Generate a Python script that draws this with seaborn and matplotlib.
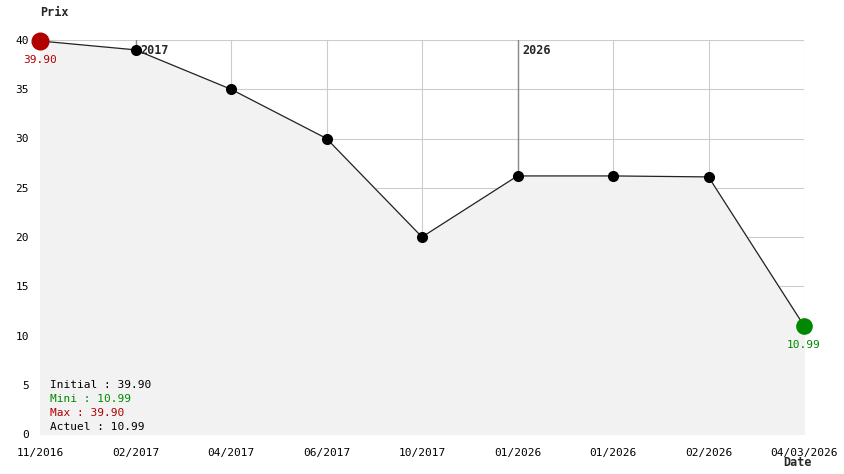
import numpy as np
import pandas as pd
import matplotlib
matplotlib.use("Agg")
import matplotlib.pyplot as plt
import seaborn as sns

# donnees
dates = ["11/2016", "02/2017", "04/2017", "06/2017", "10/2017",
         "01/2026", "01/2026", "02/2026", "04/03/2026"]
prix = [39.90, 39.0, 35.0, 30.0, 20.0, 26.2, 26.2, 26.1, 10.99]
annees = {1: "2017", 5: "2026"}  # marqueurs de changement d'annee

prix_init = 39.90
prix_mini = 10.99
prix_max = 39.90
prix_actuel = 10.99

ROUGE = "#b00000"
VERT = "#008800"

df = pd.DataFrame({"idx": np.arange(len(prix)), "prix": prix})

sns.set_style("white")
plt.rcParams["font.family"] = ["DejaVu Sans Mono"]

fig = plt.figure(figsize=(8.44, 4.74), dpi=100)
ax = fig.add_axes([40 / 844, 40 / 474, 764 / 844, 394 / 474])

# le remplissage cache la grille
ax.fill_between(df["idx"], df["prix"], 0, color="#f2f2f2", zorder=1)
ax.set_xlim(0, len(prix) - 1)
ax.set_ylim(0, 40)
ax.set_yticks(range(0, 41, 5))
ax.set_xticks(df["idx"])
ax.set_xticklabels(dates)
ax.grid(True, color="#cccccc", lw=0.8)
ax.set_axisbelow(True)
for s in ax.spines.values():
    s.set_visible(False)
ax.tick_params(length=0, labelsize=8, pad=8, labelcolor="black")
ax.tick_params(axis="x", pad=10)

for i, lab in annees.items():
    ax.plot([i, i], [40, prix[i]], color="#888888", lw=1, zorder=2)
    ax.text(i + 0.05, 38.9, lab, fontsize=8.5, fontweight="bold", va="center", ha="left", zorder=5)

sns.lineplot(data=df, x="idx", y="prix", ax=ax, color="#222222", lw=0.9,
             marker="o", markersize=8, markeredgewidth=0, markerfacecolor="black",
             zorder=3, clip_on=False)
ax.plot(0, prix[0], "o", color=ROUGE, markersize=12, zorder=4, clip_on=False)
ax.plot(len(prix) - 1, prix[-1], "o", color=VERT, markersize=11, zorder=4, clip_on=False)
ax.set_xlabel("")
ax.set_ylabel("")

ax.annotate(f"{prix[0]:.2f}", (0, prix[0]), xytext=(0, -14), textcoords="offset points",
            ha="center", va="center", color=ROUGE, fontsize=8)
ax.annotate(f"{prix[-1]:.2f}", (len(prix) - 1, prix[-1]), xytext=(0, -14),
            textcoords="offset points", ha="center", va="center", color=VERT, fontsize=8)

lignes = [(f"Initial : {prix_init:.2f}", "black"),
          (f"Mini : {prix_mini:.2f}", VERT),
          (f"Max : {prix_max:.2f}", ROUGE),
          (f"Actuel : {prix_actuel:.2f}", "black")]
for k, (txt, c) in enumerate(lignes):
    fig.text(50 / 844, 1 - (385 + 14 * k) / 474, txt, color=c, fontsize=8, va="center", ha="left")

fig.text(40 / 844, 1 - 12 / 474, "Prix", fontsize=8.5, fontweight="bold", ha="left", va="center")
fig.text(797 / 844, 1 - 463 / 474, "Date", fontsize=8.5, fontweight="bold", ha="center", va="center")

fig.savefig("out.png", dpi=100)
